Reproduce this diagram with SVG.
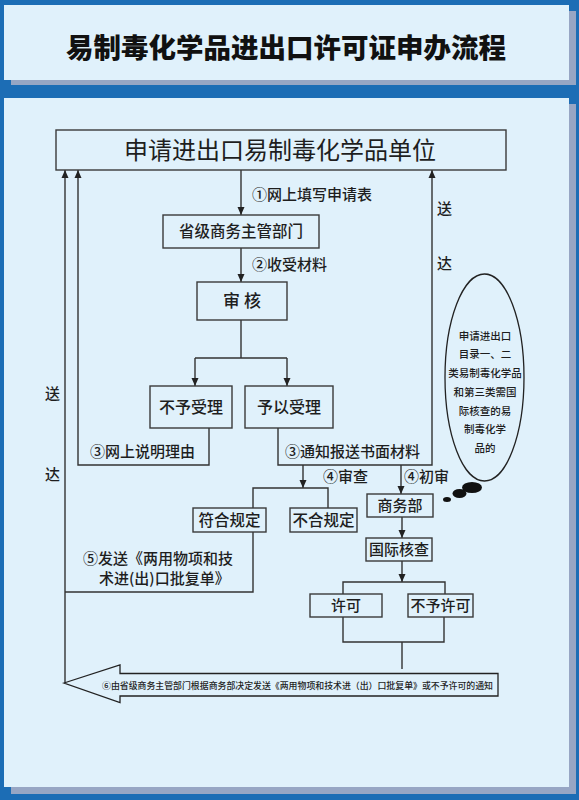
<svg xmlns="http://www.w3.org/2000/svg" width="579" height="800" viewBox="0 0 579 800">
<defs>
<style>
.panel{fill:#e0f1fb}
.shadow{fill:#97a6c4}
.box{fill:#e0f1fb;stroke:#3a3a3a;stroke-width:1.4}
.ln{fill:none;stroke:#333;stroke-width:1.4}
text{font-family:"Noto Sans CJK SC","Noto Sans",sans-serif;fill:#1e1e1e;font-weight:500}
.t15{font-size:15px}
.t16{font-size:16px}
.c{text-anchor:middle}
.el{font-size:10.5px;text-anchor:middle}
</style>
<marker id="ah" viewBox="0 0 8 8" refX="8" refY="4" markerWidth="8" markerHeight="8" markerUnits="userSpaceOnUse" orient="auto">
<path d="M0,0.5 L8,4 L0,7.5 z" fill="#222"/>
</marker>
</defs>
<rect x="0" y="0" width="579" height="800" fill="#1c6db5"/>
<g id="title">
<rect class="shadow" x="11" y="11" width="565" height="74"/>
<rect class="panel" x="4" y="5" width="565" height="75"/>
<text x="286" y="58" class="c" style="font-size:27.5px;font-weight:900;fill:#111">易制毒化学品进出口许可证申办流程</text>
</g>
<g id="main-panel">
<rect class="shadow" x="11" y="104" width="565" height="690"/>
<rect class="panel" x="4" y="98" width="565" height="689"/>
</g>
<g id="connectors">
<path class="ln" d="M241,170 V215" marker-end="url(#ah)"/>
<path class="ln" d="M241,248 V282" marker-end="url(#ah)"/>
<path class="ln" d="M241,320 V358 M195,358 H287"/>
<path class="ln" d="M195,358 V386" marker-end="url(#ah)"/>
<path class="ln" d="M287,358 V386" marker-end="url(#ah)"/>
<path class="ln" d="M209,428 V465 H78 V170" marker-end="url(#ah)"/>
<path class="ln" d="M278,428 V465 H432 V170" marker-end="url(#ah)"/>
<path class="ln" d="M303,465 V488" marker-end="url(#ah)"/>
<path class="ln" d="M401,465 V494" marker-end="url(#ah)"/>
<path class="ln" d="M253,508 V488 H328 V508"/>
<path class="ln" d="M253,532 V592 H65"/>
<path class="ln" d="M65,683 V170" marker-end="url(#ah)"/>
<path class="ln" d="M402,517 V538" marker-end="url(#ah)"/>
<path class="ln" d="M402,561 V582" marker-end="url(#ah)"/>
<path class="ln" d="M343,594 V582 H445 V594"/>
<path class="ln" d="M343,617 V642 H444 V617 M402,642 V669"/>
<text x="252" y="200" class="t15">①网上填写申请表</text>
<text x="252" y="270" class="t15">②收受材料</text>
<text x="437" y="214" class="t15">送</text>
<text x="437" y="269" class="t15">达</text>
<text x="45" y="399" class="t15">送</text>
<text x="45" y="480" class="t15">达</text>
<text x="90" y="457" class="t15">③网上说明理由</text>
<text x="285" y="457" class="t15">③通知报送书面材料</text>
<text x="323" y="482" class="t15">④审查</text>
<text x="404" y="482" class="t15">④初审</text>
<text x="83" y="564" class="t15">⑤发送《两用物项和技</text>
<text x="99" y="584" class="t15">术进(出)口批复单》</text>
</g>
<g id="n-applicant">
<rect class="box" x="56" y="130" width="450" height="40"/>
<text x="280" y="159" class="c" style="font-size:24px;font-weight:400">申请进出口易制毒化学品单位</text>
</g>
<g id="n-provincial">
<rect class="box" x="163" y="215" width="156" height="33"/>
<text x="241" y="237" class="c" style="font-size:15.5px">省级商务主管部门</text>
</g>
<g id="n-review">
<rect class="box" x="197" y="282" width="90" height="38"/>
<text x="242" y="307" class="c" style="font-size:17px">审 核</text>
</g>
<g id="n-reject">
<rect class="box" x="150" y="386" width="82" height="42"/>
<text x="191" y="413" class="c t16">不予受理</text>
</g>
<g id="n-accept">
<rect class="box" x="245" y="386" width="88" height="42"/>
<text x="289" y="413" class="c t16">予以受理</text>
</g>
<g id="n-comply">
<rect class="box" x="193" y="508" width="73" height="24"/>
<text x="229.5" y="526" class="c" style="font-size:15.5px">符合规定</text>
</g>
<g id="n-noncomply">
<rect class="box" x="290" y="508" width="67" height="24"/>
<text x="323.5" y="526" class="c" style="font-size:15.5px">不合规定</text>
</g>
<g id="n-mofcom">
<rect class="box" x="367" y="494" width="66" height="23"/>
<text x="400" y="511" class="c t15">商务部</text>
</g>
<g id="n-intl">
<rect class="box" x="366" y="538" width="66" height="23"/>
<text x="399" y="555" class="c t15">国际核查</text>
</g>
<g id="n-permit">
<rect class="box" x="310" y="594" width="72" height="23"/>
<text x="346" y="611" class="c t15">许可</text>
</g>
<g id="n-nopermit">
<rect class="box" x="408" y="594" width="65" height="23"/>
<text x="440.5" y="611" class="c t15">不予许可</text>
</g>
<g id="n-note">
<ellipse cx="484.5" cy="377.5" rx="39.5" ry="103.5" fill="none" stroke="#222" stroke-width="1.3"/>
<text x="485" y="340" class="el">申请进出口</text>
<text x="485" y="358" class="el">目录一、二</text>
<text x="485" y="377" class="el">类易制毒化学品</text>
<text x="485" y="396" class="el">和第三类需国</text>
<text x="485" y="415" class="el">际核查的易</text>
<text x="485" y="433" class="el">制毒化学</text>
<text x="485" y="452" class="el">品的</text>
<ellipse cx="472" cy="487.5" rx="10" ry="5.5" fill="#111"/>
<ellipse cx="459.5" cy="493.5" rx="7" ry="4.5" fill="#111"/>
<ellipse cx="447" cy="499.5" rx="4" ry="2.5" fill="#111"/>
</g>
<g id="n-notice">
<polygon points="64,683 120,665 120,673.5 498,673.5 498,696 120,696 120,702.5" fill="#e0f1fb" stroke="#222" stroke-width="1.3"/>
<text x="102" y="688.5" style="font-size:8.9px" textLength="391" lengthAdjust="spacingAndGlyphs">⑥由省级商务主管部门根据商务部决定发送《两用物项和技术进（出）口批复单》或不予许可的通知</text>
</g>
</svg>
